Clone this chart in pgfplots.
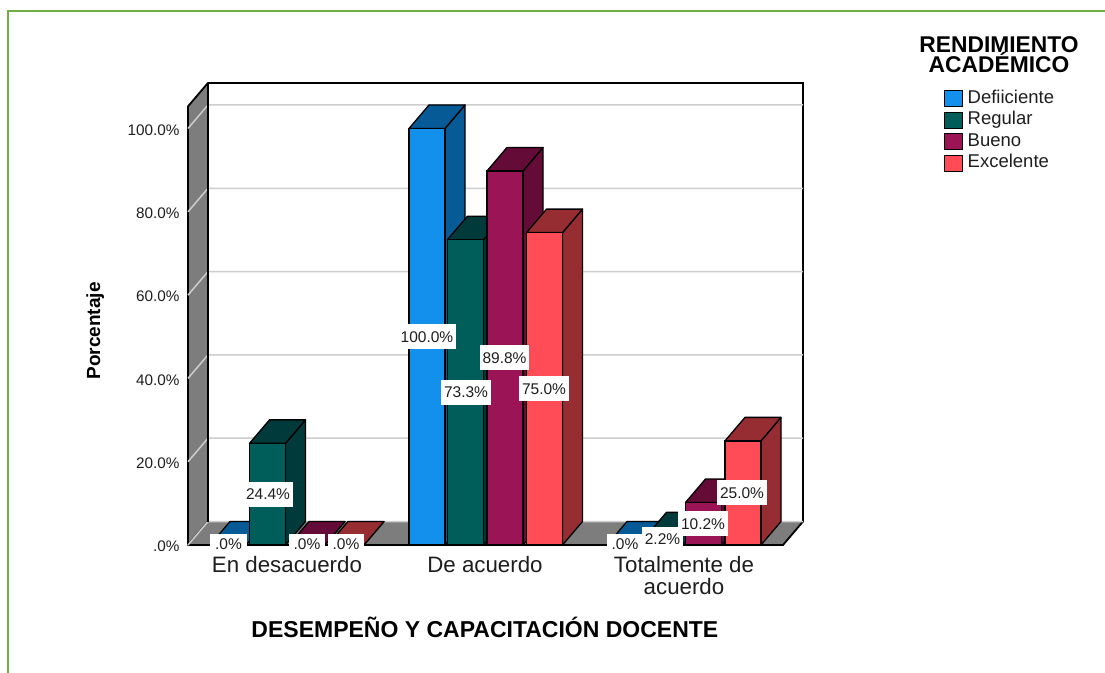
\documentclass[border=0pt]{standalone}
\usepackage{pgfplots}
\pgfplotsset{compat=1.18}
\usepackage{fontspec}
\setmainfont{Liberation Sans}
\definecolor{blueF}{RGB}{18,144,236}
\definecolor{blueD}{RGB}{6,90,150}
\definecolor{tealF}{RGB}{0,94,90}
\definecolor{tealD}{RGB}{0,58,58}
\definecolor{crimF}{RGB}{155,20,85}
\definecolor{crimD}{RGB}{100,12,55}
\definecolor{redF}{RGB}{255,76,86}
\definecolor{redD}{RGB}{150,45,50}
\definecolor{frameG}{RGB}{112,173,71}
\definecolor{wallG}{RGB}{125,125,125}
\definecolor{gridG}{RGB}{205,205,205}
\definecolor{txt}{RGB}{30,30,30}
\newcommand\fs[1]{\fontsize{#1}{#1}\selectfont}
% #1 left edge, #2 value, #3 front colour, #4 shaded colour
\newcommand\barD[4]{%
  \pgfmathsetmacro\xa{#1+36}\pgfmathsetmacro\xb{#1+56}%
  \pgfmathsetmacro\xc{#1+20}\pgfmathsetmacro\xm{#1+18}%
  \pgfmathsetmacro\ya{#2+5.64}%
  \addplot[forget plot,draw=black,line width=1.3pt,line join=round,fill=#4] coordinates {(\xa,0)(\xb,5.64)(\xb,\ya)(\xa,#2)} --cycle;
  \addplot[forget plot,draw=black,line width=1.3pt,line join=round,fill=#4] coordinates {(#1,#2)(\xc,\ya)(\xb,\ya)(\xa,#2)} --cycle;
  \addplot[forget plot,ybar,bar width=36,bar shift=0pt,draw=black,line width=1.3pt,fill=#3] coordinates {(\xm,#2)};
}
\newcommand\lab[3]{\node[fill=white,inner xsep=3pt,inner ysep=0pt,minimum height=25pt,text=txt,font=\fs{15.5}] at (axis cs:#1,#2) {#3};}
\newcommand\labz[3]{\node[fill=white,inner xsep=5pt,inner ysep=0pt,minimum height=20pt,text=txt,font=\fs{15.5}] at (axis cs:#1,#2) {#3};}
\newcommand\gridl[1]{%
  \pgfmathsetmacro\ya{#1+5.64}%
  \addplot[forget plot,draw=gridG,line width=1.5pt] coordinates {(188,#1)(208,\ya)(803,\ya)};
}
\begin{document}
\begin{tikzpicture}[x=1pt,y=1pt]
\useasboundingbox (0,0) rectangle (1105,672);
\fill[white] (0,0) rectangle (1105,672);
\draw[frameG,line width=1.8pt] (8,-2) -- (8,661) -- (1107,661);
\begin{axis}[
  at={(188pt,127pt)},anchor=south west,
  scale only axis,width=595pt,height=438.6pt,
  xmin=188,xmax=783,ymin=0,ymax=105.3,
  clip=false,
  axis line style={draw=none},
  major tick length=0pt,
  xtick={287,485,684},
  xticklabels={En desacuerdo,De acuerdo,{Totalmente de\\acuerdo}},
  xticklabel style={align=center,font=\fs{22.3},text=txt,yshift=-8pt},
  ytick={0,20,40,60,80,100},
  yticklabels={.0\%,20.0\%,40.0\%,60.0\%,80.0\%,100.0\%},
  yticklabel style={font=\fs{15.3},text=txt,xshift=-5pt,yshift=-1.5pt},
  xlabel={\bfseries DESEMPEÑO Y CAPACITACIÓN DOCENTE},
  xlabel style={font=\fs{23},at={(rel axis cs:0.499,-0.187)},anchor=center},
  ylabel={\bfseries Porcentaje},
  ylabel style={font=\fs{19},at={(rel axis cs:-0.156,0.488)},anchor=center,rotate=0},
  legend style={at={(axis cs:944,109.2)},anchor=north west,draw=none,fill=none,
    font=\fs{18.5},text=txt,inner sep=0pt,
    nodes={text height=13pt,text depth=4pt,inner sep=0pt,outer sep=0pt},
    row sep=4.5pt,
    /tikz/every odd column/.append style={column sep=5pt}},
  legend cell align=left,
  legend image code/.code={\draw[#1,line width=1pt] (0pt,-8pt) rectangle (17.5pt,8pt);},
]
\addlegendimage{draw=black,fill=blueF}\addlegendentry{Defiiciente}
\addlegendimage{draw=black,fill=tealF}\addlegendentry{Regular}
\addlegendimage{draw=black,fill=crimF}\addlegendentry{Bueno}
\addlegendimage{draw=black,fill=redF}\addlegendentry{Excelente}
% walls
\addplot[forget plot,draw=black,line width=1.8pt,line join=round,fill=wallG] coordinates {(188,0)(208,5.64)(208,110.94)(188,105.3)} --cycle;
\addplot[forget plot,draw=none,fill=wallG] coordinates {(188,0)(208,5.64)(803,5.64)(783,0)} --cycle;
\addplot[forget plot,draw=black,line width=1.8pt] coordinates {(208,110.94)(803,110.94)(803,5.64)(783,0)(188,0)};
\gridl{0}\gridl{20}\gridl{40}\gridl{60}\gridl{80}\gridl{100}
\addplot[forget plot,draw=black,line width=1.8pt] coordinates {(208,5.64)(208,110.94)};
% En desacuerdo
\barD{210}{0}{blueF}{blueD}
\barD{249.5}{24.4}{tealF}{tealD}
\barD{289}{0}{crimF}{crimD}
\barD{328}{0}{redF}{redD}
% De acuerdo
\barD{409}{100}{blueF}{blueD}
\barD{447.5}{73.3}{tealF}{tealD}
\barD{487}{89.8}{crimF}{crimD}
\barD{526.5}{75}{redF}{redD}
% Totalmente de acuerdo
\barD{607}{0}{blueF}{blueD}
\barD{646.5}{2.2}{tealF}{tealD}
\barD{685.5}{10.2}{crimF}{crimD}
\barD{725}{25}{redF}{redD}
% value labels
\labz{228.5}{0.15}{.0\%}
\lab{268}{12.2}{24.4\%}
\labz{307}{0.15}{.0\%}
\labz{346}{0.15}{.0\%}
\lab{427}{50}{100.0\%}
\lab{466}{36.65}{73.3\%}
\lab{504.5}{44.9}{89.8\%}
\lab{544}{37.5}{75.0\%}
\labz{625}{0.15}{.0\%}
\lab{662.5}{1.3}{2.2\%}
\lab{703}{5.1}{10.2\%}
\lab{742}{12.5}{25.0\%}
% legend title
\node[align=center,font=\fs{22.8}\bfseries,text=black] at (axis cs:999,117.7) {RENDIMIENTO\\[-2pt]ACADÉMICO};
\end{axis}
\end{tikzpicture}
\end{document}
